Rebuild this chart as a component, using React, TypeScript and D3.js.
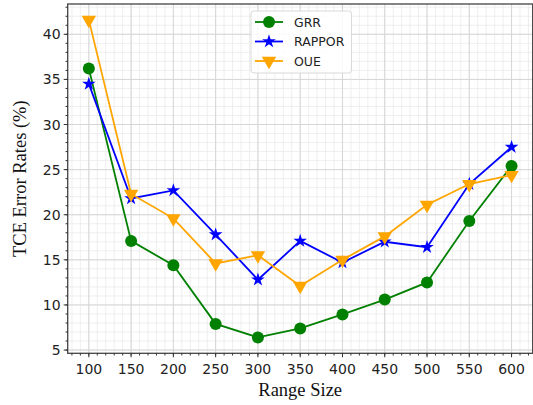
import * as d3 from 'd3'

const rangeSizes = [100, 150, 200, 250, 300, 350, 400, 450, 500, 550, 600]
const grr = [36.2, 17.1, 14.4, 7.9, 6.4, 7.4, 8.95, 10.6, 12.5, 19.3, 25.4]
const rappor = [34.5, 21.8, 22.7, 17.8, 12.8, 17.1, 14.7, 17.0, 16.4, 23.4, 27.5]
const oue = [41.6, 22.3, 19.6, 14.6, 15.5, 12.1, 15.0, 17.6, 21.1, 23.4, 24.4]
const xTicks = [100, 150, 200, 250, 300, 350, 400, 450, 500, 550, 600]
const yTicks = [5, 10, 15, 20, 25, 30, 35, 40]

const series = [
  { name: 'GRR', values: grr, color: 'green', marker: 'circle' },
  { name: 'RAPPOR', values: rappor, color: 'blue', marker: 'star' },
  { name: 'OUE', values: oue, color: 'orange', marker: 'tri' },
]

const width = 533
const height = 405
const left = 67.7
const right = 532.7
const top = 4
const bottom = 353.3

const x = d3.scaleLinear([75, 625], [left, right])
const y = d3.scaleLinear([4.64, 43.36], [bottom, top])

const starPath = d3.symbol(d3.symbolStar, 58)()!
const triPath = d3.symbol(d3.symbolTriangle, 90)()!

const Marker = ({ kind, cx, cy, color }: { kind: string; cx: number; cy: number; color: string }) => {
  if (kind === 'circle') return <circle cx={cx} cy={cy} r={6} fill={color} />
  if (kind === 'star') return <path d={starPath} transform={`translate(${cx},${cy})`} fill={color} />
  return <path d={triPath} transform={`translate(${cx},${cy}) rotate(180)`} fill={color} />
}

const App = () => {
  const line = d3.line<number>()
    .x((_, i) => x(rangeSizes[i]))
    .y(d => y(d))
  const xMinor = d3.range(80, 625, 10)
  const yMinor = d3.range(5, 44, 1)
  const font = 'DejaVu Sans, sans-serif'
  return (
    <svg width={width} height={height} style={{ position: 'absolute', left: 0, top: 0 }}>
      <rect x={left} y={top} width={right - left} height={bottom - top} fill="white" />
      <g stroke="#ebebeb" strokeWidth={0.8}>
        {xMinor.map(v => <line key={'xm' + v} x1={x(v)} x2={x(v)} y1={top} y2={bottom} />)}
        {yMinor.map(v => <line key={'ym' + v} x1={left} x2={right} y1={y(v)} y2={y(v)} />)}
      </g>
      <g stroke="#d6d6d6" strokeWidth={1}>
        {xTicks.map(v => <line key={'xg' + v} x1={x(v)} x2={x(v)} y1={top} y2={bottom} />)}
        {yTicks.map(v => <line key={'yg' + v} x1={left} x2={right} y1={y(v)} y2={y(v)} />)}
      </g>
      {series.map(s => (
        <g key={s.name}>
          <path d={line(s.values)!} fill="none" stroke={s.color} strokeWidth={1.8} />
          {s.values.map((v, i) => (
            <Marker key={i} kind={s.marker} cx={x(rangeSizes[i])} cy={y(v)} color={s.color} />
          ))}
        </g>
      ))}
      <rect x={left} y={top} width={right - left} height={bottom - top} fill="none" stroke="#444" strokeWidth={1.3} />
      <g stroke="#333" strokeWidth={1}>
        {xMinor.map(v => <line key={'xt' + v} x1={x(v)} x2={x(v)} y1={bottom} y2={bottom + 2.2} />)}
        {yMinor.map(v => <line key={'yt' + v} x1={left} x2={left - 2.2} y1={y(v)} y2={y(v)} />)}
        {xTicks.map(v => <line key={'xT' + v} x1={x(v)} x2={x(v)} y1={bottom} y2={bottom + 4} />)}
        {yTicks.map(v => <line key={'yT' + v} x1={left} x2={left - 4} y1={y(v)} y2={y(v)} />)}
      </g>
      <g fontFamily={font} fontSize={14} fill="#222">
        {xTicks.map(v => (
          <text key={'xl' + v} x={x(v)} y={bottom + 21} textAnchor="middle">{v}</text>
        ))}
        {yTicks.map(v => (
          <text key={'yl' + v} x={left - 7} y={y(v)} dy="0.36em" textAnchor="end">{v}</text>
        ))}
      </g>
      <text x={(left + right) / 2} y={396} textAnchor="middle" fontFamily="Liberation Serif, serif" fontSize={18.5} fill="#111">Range Size</text>
      <text transform={`translate(26,${(top + bottom) / 2}) rotate(-90)`} textAnchor="middle" fontFamily="Liberation Serif, serif" fontSize={18.5} fill="#111">TCE Error Rates (%)</text>
      <g>
        <rect x={251} y={11} width={100.5} height={62} rx={3} fill="white" fillOpacity={0.85} stroke="#d9d9d9" strokeWidth={1} />
        {series.map((s, i) => {
          const ly = 22 + i * 19.5
          return (
            <g key={'lg' + s.name}>
              <line x1={255} x2={283} y1={ly} y2={ly} stroke={s.color} strokeWidth={1.8} />
              <Marker kind={s.marker} cx={269} cy={ly} color={s.color} />
              <text x={294} y={ly} dy="0.36em" fontFamily={font} fontSize={12.5} fill="#222">{s.name}</text>
            </g>
          )
        })}
      </g>
    </svg>
  )
}

export default App
